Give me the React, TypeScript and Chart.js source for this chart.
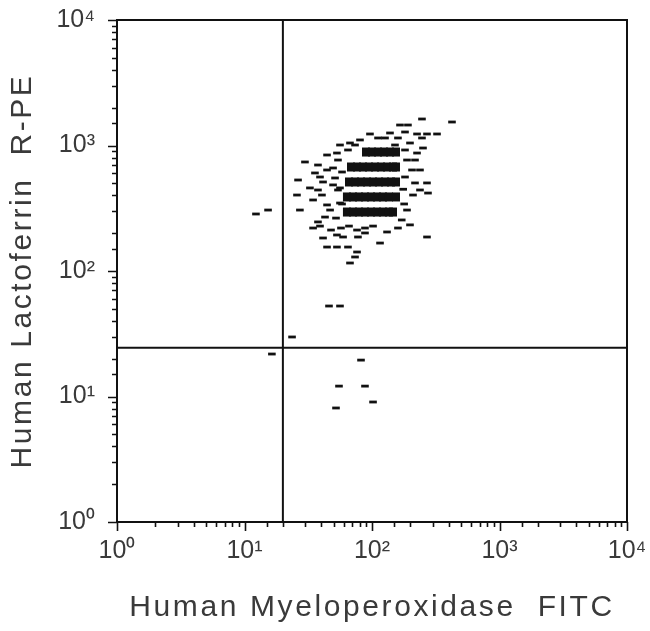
import { useEffect, useRef } from "react";
import { Chart, registerables } from "chart.js";

Chart.register(...registerables);

const AXIS_MIN = 1;
const AXIS_MAX = 10000;
const X_TITLE = "Human Myeloperoxidase  FITC";
const Y_TITLE = "Human Lactoferrin  R-PE";
const DECADE_LABELS = ["10\u2070", "10\u00B9", "10\u00B2", "10\u00B3", "10\u2074"];

// quadrant gate positions
const GATE_X = 20;
const GATE_Y = 24.5;

// dense event bands (y level and x positions)
const BAND_Y = [887, 674, 512, 389, 295];
const BAND1_X = [89.7, 100, 111.5, 124.2, 138.4, 154.3];
const BAND2_X = [68.4, 76.3, 85.0, 94.7, 105.6, 117.7, 131.2, 146.2, 154.3];
const BAND3_X = [66.0, 73.6, 82.0, 91.4, 101.9, 113.5, 126.5, 140.9, 154.3];
const BAND4_X = [63.6, 71.0, 79.1, 88.1, 98.2, 109.4, 121.9, 135.8, 154.3];
const BAND5_X = [63.6, 71.0, 79.1, 88.1, 98.2, 109.4, 121.9, 135.8, 146.2];

// individual events
const EVENT_X = [
  246.6, 424, 165.8, 191.4, 96.4, 111.5, 126.5, 138.4, 159.8, 181.5, 225.5, 246.6, 270, 323.6,
  26.3, 25.8, 34.5, 40.5, 41.3, 44.4, 49.5, 44.4, 53.1, 64.8, 56.1, 67.2, 35.7, 39.1, 46.9, 49.5,
  54.1, 56.1, 44.4, 37.7, 42.8,
  188.2, 225.5, 251.2, 206, 237.9, 181.5, 217.4, 270, 209.7, 274.9, 188.2, 270,
  34.5, 39.1, 47.7, 57.1, 66.0, 76.3, 88.1, 101.9, 131.2, 41.3, 53.1, 59.3, 77.6, 88.1,
  44.4, 53.1, 64.8, 76.3, 73.6, 67.2,
  29.8, 32.6, 37.7, 51.3, 54.1, 58.2, 56.1, 58.2, 52.2, 73.6, 80.5, 151.5, 181.5,
  27.2, 37.7, 198.6, 171.1, 115.6, 175.6, 178.7,
  217.4, 198.6, 237.9, 159.8,
  12.3, 15.3,
  23.6, 16.4, 46.0, 56.1, 82.0, 55.1, 88.1, 101.9, 52.2,
];
const EVENT_Y = [
  1626, 1539, 1456, 1456, 1235, 1148, 1148, 1258, 1148, 1281, 1235, 1148, 1235, 1235,
  531, 403, 368, 403, 512, 638, 662, 840, 871, 921, 1009, 1047, 604, 561, 306, 485,
  442, 348, 336, 442, 269,
  766, 871, 955, 638, 638, 561, 503, 503, 403, 418, 306, 186.6,
  220, 228, 212, 220, 228, 212, 220, 228, 204.6, 183.2, 193.6, 186.6, 186.6, 200.9,
  155.2, 155.2, 155.2, 141.7, 129.3, 115.8,
  739, 459, 699, 551, 766, 615, 459, 342, 264, 1009, 1107, 1009, 921,
  306, 246, 233, 255, 167, 448, 342,
  766, 1047, 442, 220,
  284.6, 306,
  29.8, 21.8, 52.6, 52.6, 19.5, 12.1, 12.1, 9.04, 8.1,
];

const INK = "#111111";
const TEXT = "#3a3a3a";
const FONT_FAMILY = '"Liberation Sans", Arial, Helvetica, sans-serif';

function decadeLabel(v: number): string {
  const e = Math.log10(v);
  const r = Math.round(e);
  if (Math.abs(e - r) < 1e-9 && r >= 0 && r < DECADE_LABELS.length) return DECADE_LABELS[r];
  return "";
}

function isDecade(v: number): boolean {
  const e = Math.log10(v);
  return Math.abs(e - Math.round(e)) < 1e-9;
}

const framePlugin = {
  id: "frameAndTitles",
  afterDraw(chart: any) {
    const { ctx, chartArea: a, scales } = chart;
    const x = scales.x;
    const y = scales.y;
    ctx.save();
    ctx.strokeStyle = INK;
    ctx.lineWidth = 2;
    ctx.strokeRect(a.left, a.top, a.right - a.left, a.bottom - a.top);
    ctx.lineWidth = 1.6;
    ctx.beginPath();
    x.ticks.forEach((t: any) => {
      const px = Math.round(x.getPixelForValue(t.value)) + 0.5;
      const len = isDecade(t.value) ? 9 : 5;
      ctx.moveTo(px, a.bottom);
      ctx.lineTo(px, a.bottom + len);
    });
    y.ticks.forEach((t: any) => {
      const py = Math.round(y.getPixelForValue(t.value)) + 0.5;
      const len = isDecade(t.value) ? 9 : 5;
      ctx.moveTo(a.left, py);
      ctx.lineTo(a.left - len, py);
    });
    ctx.stroke();

    ctx.fillStyle = TEXT;
    ctx.font = `30px ${FONT_FAMILY}`;
    try {
      (ctx as any).letterSpacing = "2.6px";
    } catch (e) {}
    ctx.textAlign = "center";
    ctx.textBaseline = "alphabetic";
    ctx.fillText(X_TITLE, (a.left + a.right) / 2, 616);
    ctx.translate(31, (a.top + a.bottom) / 2);
    ctx.rotate(-Math.PI / 2);
    ctx.fillText(Y_TITLE, 0, 0);
    ctx.restore();
  },
};

export default function App() {
  const canvasRef = useRef<HTMLCanvasElement | null>(null);

  useEffect(() => {
    const canvas = canvasRef.current;
    if (!canvas) return;

    const bands = [BAND1_X, BAND2_X, BAND3_X, BAND4_X, BAND5_X];
    const bandData: { x: number; y: number }[] = [];
    bands.forEach((xs, i) => xs.forEach((xv) => bandData.push({ x: xv, y: BAND_Y[i] })));
    const eventData = EVENT_X.map((xv, i) => ({ x: xv, y: EVENT_Y[i] }));

    const chart = new Chart(canvas, {
      type: "scatter",
      data: {
        datasets: [
          {
            label: "bands",
            data: bandData,
            pointStyle: "line",
            pointRadius: 4,
            borderWidth: 9,
            borderColor: INK,
            backgroundColor: INK,
          },
          {
            label: "events",
            data: eventData,
            pointStyle: "line",
            pointRadius: 3.8,
            borderWidth: 2.8,
            borderColor: INK,
            backgroundColor: INK,
          },
          {
            type: "line",
            label: "gateX",
            data: [
              { x: GATE_X, y: AXIS_MIN },
              { x: GATE_X, y: AXIS_MAX },
            ],
            borderColor: INK,
            borderWidth: 2,
            pointRadius: 0,
          } as any,
          {
            type: "line",
            label: "gateY",
            data: [
              { x: AXIS_MIN, y: GATE_Y },
              { x: AXIS_MAX, y: GATE_Y },
            ],
            borderColor: INK,
            borderWidth: 2,
            pointRadius: 0,
          } as any,
        ],
      },
      options: {
        responsive: false,
        animation: false,
        events: [],
        layout: { padding: { left: 0, top: 20, right: 23, bottom: 0 } },
        plugins: {
          legend: { display: false },
          tooltip: { enabled: false },
          title: { display: false },
        },
        scales: {
          x: {
            type: "logarithmic",
            min: AXIS_MIN,
            max: AXIS_MAX,
            grid: { display: false, drawTicks: false },
            border: { display: false },
            title: { display: false },
            ticks: {
              autoSkip: false,
              maxRotation: 0,
              minRotation: 0,
              padding: 14,
              color: TEXT,
              font: { family: FONT_FAMILY, size: 25 },
              callback: (v: any) => decadeLabel(Number(v)),
            },
            afterFit: (s: any) => {
              s.height = 109;
              s.paddingLeft = 0;
              s.paddingRight = 0;
            },
          },
          y: {
            type: "logarithmic",
            min: AXIS_MIN,
            max: AXIS_MAX,
            grid: { display: false, drawTicks: false },
            border: { display: false },
            title: { display: false },
            ticks: {
              autoSkip: false,
              padding: 22,
              color: TEXT,
              font: { family: FONT_FAMILY, size: 25 },
              callback: (v: any) => decadeLabel(Number(v)),
            },
            afterFit: (s: any) => {
              s.width = 117;
              s.paddingTop = 0;
              s.paddingBottom = 0;
            },
          },
        },
      },
      plugins: [framePlugin],
    });

    return () => chart.destroy();
  }, []);

  return (
    <div style={{ position: "absolute", left: 0, top: 0, width: 650, height: 631, background: "#ffffff" }}>
      <canvas ref={canvasRef} width={650} height={631} />
    </div>
  );
}
